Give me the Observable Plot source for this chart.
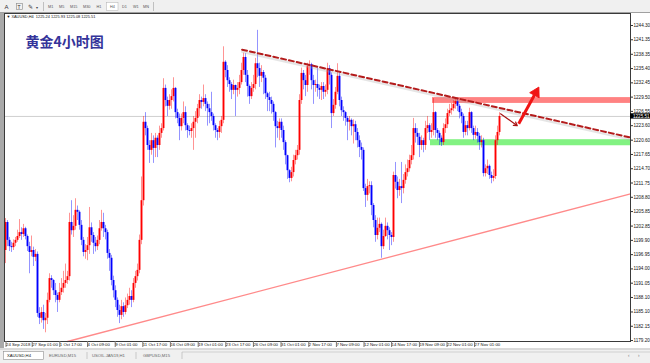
<!DOCTYPE html>
<html><head><meta charset="utf-8">
<script src="https://cdn.jsdelivr.net/npm/d3@7"></script>
<script src="https://cdn.jsdelivr.net/npm/@observablehq/plot@0.6"></script>
<style>
html,body{margin:0;padding:0;background:#f0f0f0;width:650px;height:363px;overflow:hidden;font-family:"Liberation Sans",Arial,sans-serif}
svg{display:block}
#wrap{position:relative;width:650px;height:335px}
#lborder{position:absolute;left:0;top:0;width:4px;height:335px;background:#a9a9a9}
</style></head><body>
<svg id="toolbar" width="650" height="13" font-family="Liberation Sans, Arial, sans-serif">
  <rect x="0" y="0" width="650" height="13" fill="#f0f0f0"/>
  <line x1="0" y1="12.5" x2="650" y2="12.5" stroke="#a0a0a0"/>
  <text x="4.5" y="9" font-size="6" fill="#333">A</text>
  <rect x="16.5" y="3.5" width="6" height="6" fill="none" stroke="#888" stroke-width="0.6"/>
  <text x="17.6" y="8.6" font-size="5" fill="#333">T</text>
  <text x="28" y="9" font-size="6" fill="#444">✎</text>
  <text x="35.5" y="8.5" font-size="4" fill="#444">▾</text>
  <line x1="43.5" y1="2" x2="43.5" y2="11" stroke="#c0c0c0"/>
  <g font-size="3.8" fill="#555">
    <text x="48" y="8">M1</text>
    <text x="59" y="8">M5</text>
    <text x="70" y="8">M15</text>
    <text x="83" y="8">M30</text>
    <text x="96.5" y="8">H1</text>
    <rect x="106.5" y="2.5" width="11.5" height="8" fill="#fff" stroke="#b0b0b0" stroke-width="0.5"/>
    <text x="110" y="8">H4</text>
    <text x="122" y="8">D1</text>
    <text x="133" y="8">W1</text>
    <text x="143" y="8">MN</text>
  </g>
  <line x1="153.5" y1="2" x2="153.5" y2="11" stroke="#c0c0c0"/>
</svg>
<div id="wrap"><div id="chart"></div><div id="lborder"></div></div>
<svg id="tabs" width="650" height="15" font-family="Liberation Sans, Arial, sans-serif">
  <rect x="0" y="0" width="650" height="15" fill="#f0f0f0"/>
  <line x1="0" y1="1" x2="650" y2="1" stroke="#b8b8b8" stroke-width="0.8"/>
  <line x1="182" y1="4" x2="650" y2="4" stroke="#c8c8c8" stroke-width="0.8"/>
  <rect x="3.5" y="3.5" width="40" height="8" fill="#fff" stroke="#909090" stroke-width="0.6"/>
  <g font-size="4.2">
    <text x="7" y="9" fill="#111">XAUUSD,H4</text>
    <text x="49" y="9" fill="#666">EURUSD,M15</text>
    <text x="92" y="9" fill="#666">USOIL.JAN19,H1</text>
    <text x="143" y="9" fill="#666">GBPUSD,M15</text>
  </g>
  <g stroke="#b0b0b0" stroke-width="0.6">
    <line x1="87" y1="4" x2="87" y2="11"/>
    <line x1="136" y1="4" x2="136" y2="11"/>
    <line x1="182" y1="4" x2="182" y2="11"/>
  </g>
  <text x="628" y="9" font-size="4.5" fill="#777">‹</text>
  <text x="638" y="9" font-size="4.5" fill="#777">›</text>
</svg>
<script>
// ---- data (XAUUSD H4, prices) ----
const firstOpen = 1197.8;
const close = [1203.6,1199.9,1198.6,1198.4,1199.3,1199.9,1200.7,1201.5,1201.1,1202.3,1200.7,1198.6,1197.4,1197.8,1196.4,1197.0,1184.8,1183.8,1185.0,1183.3,
1183.8,1187.5,1192.0,1191.6,1189.5,1188.5,1187.5,1189.1,1190.0,1191.0,1191.6,1192.4,1203.6,1201.9,1202.8,1206.1,1205.7,1203.0,1199.9,1197.4,
1197.8,1198.8,1202.5,1200.9,1199.3,1198.6,1199.9,1202.3,1203.6,1202.3,1201.5,1197.2,1196.2,1191.6,1189.5,1187.5,1185.4,1184.4,1186.2,1185.0,
1186.4,1187.5,1188.3,1187.5,1191.0,1192.4,1193.7,1199.9,1208.1,1224.3,1223.0,1219.5,1218.5,1220.5,1218.9,1221.0,1219.5,1222.0,1223.0,1231.3,
1228.8,1227.6,1228.8,1229.6,1231.3,1226.3,1225.1,1223.4,1225.1,1226.3,1223.6,1222.6,1222.4,1223.0,1224.3,1225.1,1227.1,1228.8,1228.4,1229.2,
1228.0,1227.1,1226.3,1225.5,1223.6,1222.6,1222.2,1223.4,1224.7,1236.7,1235.0,1232.9,1232.1,1230.9,1231.9,1230.9,1231.3,1232.5,1235.0,1237.7,
1234.0,1231.7,1229.6,1231.3,1232.1,1236.4,1235.4,1233.8,1234.6,1233.4,1230.2,1229.4,1228.8,1228.0,1226.3,1223.4,1223.0,1224.3,1222.6,1220.1,
1217.4,1214.3,1212.7,1213.9,1216.4,1217.4,1218.5,1228.8,1234.4,1232.9,1231.9,1235.8,1236.2,1232.9,1231.9,1232.1,1231.3,1230.9,1231.7,1230.5,
1230.9,1235.4,1234.0,1226.1,1227.8,1230.5,1233.8,1228.8,1226.7,1226.3,1225.1,1224.3,1224.7,1223.4,1223.8,1222.2,1220.5,1219.1,1218.5,1210.6,
1209.2,1211.0,1211.2,1207.1,1204.0,1200.9,1202.4,1203.2,1198.6,1200.7,1202.8,1201.9,1200.9,1200.5,1213.3,1211.9,1210.2,1211.0,1210.6,1212.3,
1213.9,1214.7,1216.4,1217.4,1223.0,1222.0,1221.2,1219.5,1220.5,1219.5,1223.0,1223.6,1222.2,1222.6,1226.3,1222.6,1222.0,1221.0,1220.1,1223.0,
1223.8,1226.1,1226.7,1227.1,1228.0,1228.6,1227.6,1226.3,1225.5,1222.2,1223.6,1223.0,1226.3,1223.0,1221.6,1222.2,1221.4,1220.1,1220.5,1213.7,
1214.7,1215.2,1213.3,1212.7,1213.1,1220.5,1222.2,1225.51];
const high = [1204.4,1204.0,1200.5,1199.5,1200.0,1200.5,1202.0,1204.2,1202.5,1203.2,1202.6,1201.0,1199.5,1200.8,1198.5,1198.0,1197.5,1186.0,1186.0,1186.5,
1184.8,1189.0,1193.0,1192.6,1191.8,1191.0,1189.0,1191.0,1192.0,1193.5,1195.0,1193.5,1205.5,1208.1,1205.0,1208.5,1207.0,1206.0,1204.0,1200.5,
1199.0,1200.5,1206.7,1203.5,1201.5,1200.5,1200.8,1204.0,1206.1,1205.5,1203.0,1202.0,1198.0,1196.8,1192.5,1190.5,1188.0,1186.5,1187.5,1187.0,
1188.0,1188.8,1190.0,1189.5,1192.0,1193.5,1195.0,1201.0,1213.0,1225.5,1226.3,1223.5,1220.5,1222.0,1221.5,1222.0,1221.5,1223.5,1224.0,1233.3,
1232.0,1229.5,1230.0,1231.0,1233.5,1231.5,1227.0,1226.0,1226.0,1228.5,1227.5,1224.0,1223.5,1224.0,1225.5,1226.5,1228.0,1230.0,1229.5,1232.0,
1230.0,1228.5,1228.0,1230.5,1226.0,1224.0,1223.0,1224.5,1225.5,1239.9,1237.0,1236.0,1233.5,1232.5,1233.0,1232.0,1232.5,1234.0,1236.5,1238.6,
1238.5,1235.0,1232.0,1232.5,1234.0,1237.5,1243.3,1236.5,1236.0,1235.0,1234.0,1230.5,1230.5,1229.5,1228.5,1226.5,1224.5,1225.0,1225.0,1223.5,
1220.5,1217.5,1214.5,1215.0,1217.5,1218.5,1219.5,1230.0,1235.5,1235.0,1234.0,1236.5,1237.0,1236.5,1234.0,1233.0,1235.5,1232.0,1232.5,1232.5,
1232.0,1236.5,1236.0,1234.5,1229.0,1231.5,1236.4,1234.5,1229.5,1227.5,1226.5,1225.5,1225.5,1225.0,1224.8,1224.5,1223.0,1221.5,1220.0,1219.0,
1211.5,1212.5,1212.0,1212.0,1207.5,1205.0,1204.5,1204.5,1203.5,1202.0,1204.5,1203.5,1202.5,1201.5,1214.0,1216.0,1213.0,1212.5,1216.0,1213.5,
1215.5,1216.5,1217.5,1219.5,1225.1,1224.0,1223.0,1222.0,1221.5,1221.0,1224.5,1225.5,1224.0,1224.0,1229.2,1226.5,1223.0,1222.5,1221.5,1224.0,
1225.0,1227.0,1228.0,1228.2,1228.8,1229.2,1229.0,1228.0,1227.0,1226.0,1224.5,1224.5,1227.2,1226.5,1223.5,1223.5,1223.0,1222.0,1221.5,1221.0,
1215.5,1216.5,1215.5,1214.0,1214.5,1221.5,1223.5,1226.3];
const low = [1195.1,1198.6,1197.6,1197.4,1197.8,1198.6,1199.5,1200.3,1199.9,1200.5,1200.0,1197.6,1193.0,1196.5,1194.5,1195.5,1184.0,1182.5,1182.8,1181.5,
1180.8,1182.5,1187.0,1190.0,1188.5,1187.0,1185.0,1187.0,1188.5,1189.0,1190.0,1190.8,1191.5,1201.0,1200.5,1202.0,1204.0,1202.0,1198.8,1196.5,
1196.0,1195.7,1197.0,1199.5,1197.0,1197.5,1197.8,1199.0,1201.8,1200.5,1200.0,1196.0,1193.5,1190.5,1188.0,1186.0,1184.0,1182.7,1183.5,1184.0,
1184.5,1185.8,1186.5,1186.0,1187.0,1190.0,1191.5,1193.0,1199.0,1207.0,1221.5,1218.5,1215.8,1217.5,1215.8,1217.0,1217.0,1218.5,1221.0,1222.5,
1227.5,1225.5,1226.8,1227.0,1228.5,1225.0,1224.0,1220.5,1222.5,1224.0,1222.5,1221.0,1221.5,1221.0,1218.5,1221.0,1224.0,1225.5,1227.0,1227.5,
1226.5,1223.5,1224.0,1224.5,1222.5,1221.0,1220.5,1221.0,1222.0,1224.0,1233.5,1231.5,1230.5,1229.0,1230.0,1225.5,1229.5,1230.0,1232.0,1234.0,
1232.5,1229.5,1228.0,1229.0,1230.5,1231.0,1233.5,1231.5,1232.5,1230.0,1229.0,1226.5,1226.5,1226.0,1224.5,1219.0,1221.0,1220.5,1221.0,1218.5,
1215.5,1212.5,1211.8,1212.0,1213.0,1215.5,1216.5,1217.5,1228.0,1231.0,1229.6,1230.5,1234.0,1231.0,1228.0,1230.5,1229.5,1229.0,1228.8,1229.0,
1229.5,1230.0,1232.0,1223.0,1225.5,1227.0,1230.0,1227.5,1225.5,1224.5,1223.5,1220.5,1222.5,1221.5,1219.8,1220.5,1219.0,1217.0,1216.5,1210.0,
1206.7,1208.0,1209.5,1205.0,1202.5,1199.5,1200.0,1201.5,1196.2,1198.0,1200.5,1200.0,1197.8,1198.8,1199.5,1210.5,1208.5,1209.0,1207.5,1209.5,
1211.5,1213.0,1214.0,1215.5,1216.5,1220.0,1219.5,1217.0,1218.5,1218.0,1218.5,1222.0,1220.5,1221.0,1221.5,1221.0,1220.5,1219.5,1219.3,1219.5,
1222.0,1223.0,1225.5,1225.8,1226.5,1227.0,1226.5,1225.0,1224.0,1221.0,1221.5,1221.5,1222.5,1222.0,1220.5,1220.8,1220.0,1218.5,1219.0,1213.0,
1213.0,1213.5,1212.5,1211.6,1212.0,1212.5,1219.5,1221.5];

const bidPrice = 1225.51;
const headerText = "\u25BC XAUUSD,H4  1225.24 1225.93 1225.08 1225.51";
const titleText = "黄金4小时图";

const yTicks = [1244.30,1241.35,1238.35,1235.40,1232.45,1229.50,1226.55,1223.60,1220.60,1217.65,1214.70,1211.75,
1208.80,1205.85,1202.85,1199.90,1196.95,1194.00,1191.05,1188.10,1185.10,1182.15,1179.20];
const xTickBars = [-0.5,12.6,26.4,40.3,54.1,67.9,81.7,95.6,109.4,123.2,137.0,150.9,164.7,178.5,192.3,206.2,220.0,233.8];
const xTickLabels = ["24 Sep 2018","27 Sep 01:00","1 Oct 17:00","4 Oct 09:00","9 Oct 01:00","11 Oct 17:00","16 Oct 09:00",
"19 Oct 01:00","23 Oct 17:00","26 Oct 09:00","31 Oct 01:00","2 Nov 17:00","7 Nov 09:00","12 Nov 01:00","14 Nov 17:00",
"19 Nov 09:00","22 Nov 01:00","27 Nov 01:00"];

// annotations (bar index, price)
const resistanceZone = [{x1: 213.5, x2: 312.5, y1: 1228.2, y2: 1229.4}];
const supportZone = [{x1: 212.5, x2: 312.5, y1: 1219.45, y2: 1220.7}];
const downTrend = [{i: 118.3, p: 1239.3}, {i: 312.5, p: 1221.15}];
const upTrend = [{i: 31, p: 1179.0}, {i: 312.5, p: 1209.5}];
const bigArrow = [{x1: 256.6, y1: 1224.0, x2: 265.1, y2: 1230.4}];
const bigArrowHead = [{i: 265.2, p: 1230.45, angle: 28.6}];
const smallArrow = [{x1: 247.5, y1: 1226.05, x2: 255.9, y2: 1223.6}];

// ---- build ----
const bars = close.map((c, i) => {
  const o = i ? close[i - 1] : firstOpen;
  return {i, o, c, h: Math.max(high[i], o, c), l: Math.min(low[i], o, c), col: c >= o ? "#ff0000" : "#0000ff"};
});
const labelMap = new Map(xTickBars.map((b, k) => [b, xTickLabels[k]]));
const xMax = 312.5;

const chart = Plot.plot({
  width: 650, height: 335,
  marginLeft: 4, marginRight: 20, marginTop: 0, marginBottom: 7,
  x: {domain: [-0.5, xMax], axis: null},
  y: {domain: [1179.0, 1246.78], axis: null},
  style: {background: "white", fontFamily: "Liberation Sans, Arial, sans-serif", overflow: "visible"},
  marks: [
    Plot.ruleY([bidPrice], {stroke: "#cfcfcf", strokeWidth: 1}),
    Plot.rect(resistanceZone, {x1: "x1", x2: "x2", y1: "y1", y2: "y2", fill: "#ff8282"}),
    Plot.rect(supportZone, {x1: "x1", x2: "x2", y1: "y1", y2: "y2", fill: "#82f282"}),
    Plot.ruleX(bars, {x: "i", y1: "l", y2: "h", stroke: "col", strokeOpacity: 0.42, strokeWidth: 1}),
    Plot.ruleX(bars, {x: "i", y1: "o", y2: "c", stroke: "col", strokeWidth: 1.9}),
    Plot.line(upTrend, {x: "i", y: "p", stroke: "#ff8a8a", strokeWidth: 1.3}),
    Plot.line(downTrend, {x: "i", y: "p", stroke: "#a8a8a8", strokeOpacity: 0.3, strokeWidth: 2.2, dy: 2.2}),
    Plot.line(downTrend, {x: "i", y: "p", stroke: "#b41c1c", strokeWidth: 2, strokeDasharray: "5,3"}),
    Plot.link(bigArrow, {x1: "x1", y1: "y1", x2: "x2", y2: "y2", stroke: "#f01414", strokeWidth: 3}),
    Plot.dot(bigArrowHead, {x: "i", y: "p", symbol: "triangle", r: 4, fill: "#f01414", stroke: "#f01414", strokeWidth: 0.8, rotate: "angle"}),
    Plot.arrow(smallArrow, {x1: "x1", y1: "y1", x2: "x2", y2: "y2", stroke: "#a81414", strokeWidth: 1.2, headLength: 5}),
    Plot.frame({stroke: "#3a3a3a", strokeWidth: 1}),
    Plot.axisY(yTicks, {anchor: "right", tickSize: 2, tickPadding: 1, tickFormat: d => d.toFixed(2), fontSize: 4.6, fill: "#111", stroke: "#333"}),
    Plot.rect([bidPrice], {x1: xMax, x2: xMax + 10, y1: d => d - 0.55, y2: d => d + 0.55, fill: "#000", clip: false}),
    Plot.text([bidPrice], {x: xMax, y: d => d, text: d => d.toFixed(2), dx: 2.5, textAnchor: "start", fill: "#fff", fontSize: 4.6}),
    Plot.axisX(xTickBars, {anchor: "bottom", tickSize: 6, tickPadding: -5, tickFormat: d => labelMap.get(d), textAnchor: "start", dx: 1.5, fontSize: 4.3, fill: "#111", stroke: "#777"}),
    Plot.text([headerText], {frameAnchor: "top-left", dx: 2, dy: 2.2, fontSize: 3.9, fill: "#111"}),
    Plot.text([titleText], {frameAnchor: "top-left", lineAnchor: "middle", dx: 21, dy: 29, fontSize: 14, fontWeight: 700, fill: "#34349a", fontFamily: "Noto Sans CJK SC, sans-serif"})
  ]
});
document.getElementById("chart").appendChild(chart);
</script>
</body></html>
